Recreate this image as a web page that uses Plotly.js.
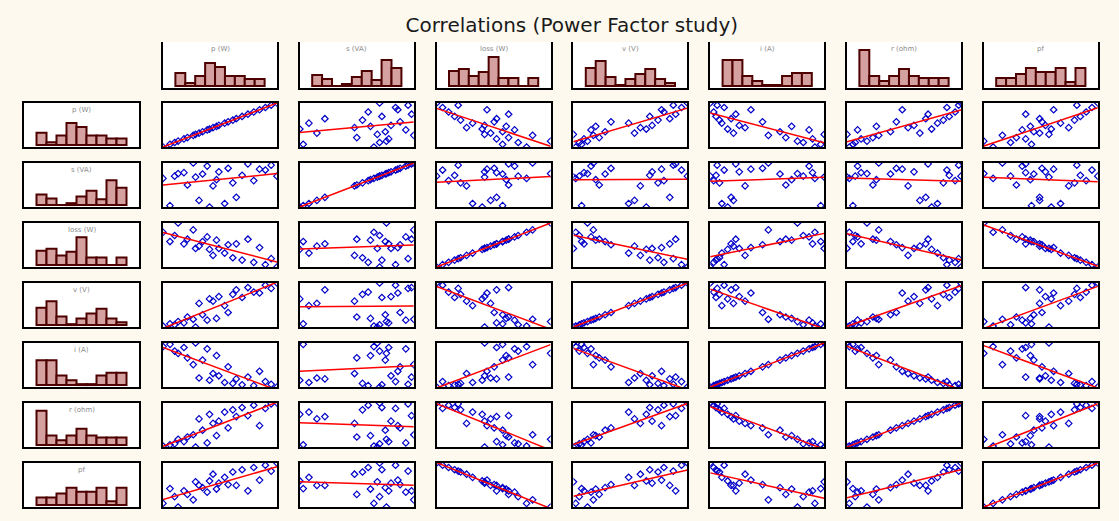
<!DOCTYPE html>
<html>
<head>
<meta charset="utf-8">
<script src="https://cdn.plot.ly/plotly-3.0.1.min.js"></script>
<style>
html,body{margin:0;padding:0;background:#fdf9ef;}
#chart{width:1119px;height:521px;}
</style>
</head>
<body>
<div id="chart"></div>
<script>
// ---- data ----
const chartTitle = "Correlations (Power Factor study)";
const varLabels = ["p (W)", "s (VA)", "loss (W)", "v (V)", "i (A)", "r (ohm)", "pf"];

// histogram bar heights (frequency) read per variable
const histP    = [13, 3, 10, 23, 19, 10, 10, 7, 7];
const histS    = [11, 7, 0, 2, 9, 15, 6, 26, 18];
const histLoss = [15, 17, 10, 14, 29, 8, 8, 0, 8];
const histV    = [18, 25, 9, 1, 7, 12, 17, 7, 3];
const histI    = [26, 26, 10, 5, 1, 1, 10, 13, 13];
const histR    = [36, 10, 5, 10, 17, 10, 8, 8, 8];
const histPf   = [8, 8, 12, 18, 14, 14, 18, 4, 18];

// observations (scaled units) for the scatter matrix
const obsP    = [0.2,0.8,1.2,1.5,2.0,2.3,2.8,3.0,3.3,3.6,4.0,4.2,4.5,4.8,5.0,5.5,5.8,6.2,6.5,7.0,7.5,8.0,8.5,9.0,9.5,10.0];
const obsS    = [6.5,0.3,7.0,7.6,7.8,5.0,10.0,6.8,1.5,7.5,9.3,0.0,4.8,6.2,8.0,0.8,8.8,5.5,2.2,7.2,9.8,6.0,8.6,8.4,9.5,7.0];
const obsLoss = [7.5,5.5,6.8,9.5,5.0,6.0,8.0,4.0,4.5,5.5,6.5,3.8,2.5,5.8,4.0,3.0,4.8,2.0,5.0,1.5,6.0,1.0,4.2,0.5,1.8,0.0];
const obsV    = [0.5,1.0,0.8,1.5,1.2,2.5,2.0,0.3,5.5,3.0,1.8,6.5,6.0,2.2,7.0,5.0,3.5,7.5,8.5,6.8,9.0,8.0,7.8,9.5,8.8,10.0];
const obsI    = [9.0,9.5,8.0,7.5,8.8,6.5,5.0,9.8,2.0,6.0,8.5,1.5,3.0,7.0,2.5,1.0,4.5,0.8,1.8,0.5,2.2,0.3,3.5,1.2,0.6,0.0];
const obsR    = [0.5,0.8,1.0,2.0,1.5,2.5,3.0,0.3,6.5,4.0,1.2,7.5,5.5,2.8,6.0,8.0,4.5,8.5,7.0,9.0,7.2,9.5,5.0,8.8,9.8,10.0];
const obsPf   = [1.0,4.3,2.5,0.2,3.8,3.0,1.8,5.8,5.0,4.5,3.5,6.0,7.5,4.2,5.5,6.8,5.2,8.0,5.0,8.5,3.8,9.0,6.2,9.5,8.2,10.0];

const hists = [histP, histS, histLoss, histV, histI, histR, histPf];
const obs = [obsP, obsS, obsLoss, obsV, obsI, obsR, obsPf];

// ---- layout geometry (pixels) ----
const W = 1119, H = 521;
const colX0 = 163, colStep = 136.8, boxW = 114;
const rowY0 = 103, rowStep = 60, boxH = 44;
const topY0 = 42, topY1 = 88;
const leftX0 = 24, leftX1 = 139;

function xd(a, b) { return [a / W, b / W]; }
function yd(a, b) { return [1 - b / H, 1 - a / H]; }

const traces = [];
const layout = {
  width: W, height: H,
  margin: {l: 0, r: 0, t: 0, b: 0},
  paper_bgcolor: '#fdf9ef',
  plot_bgcolor: '#ffffff',
  showlegend: false,
  title: {text: chartTitle, x: 0.511, xanchor: 'center', y: 1 - 25 / H, yanchor: 'middle',
          font: {family: 'DejaVu Sans, sans-serif', size: 20, color: '#1a1a1a'}},
  annotations: [],
  bargap: 0
};

let k = 0;
function addAxes(xdom, ydom, xrange, yrange, topOpen) {
  k++;
  const xn = 'xaxis' + (k === 1 ? '' : k), yn = 'yaxis' + (k === 1 ? '' : k);
  const xid = 'x' + (k === 1 ? '' : k), yid = 'y' + (k === 1 ? '' : k);
  layout[xn] = {domain: xdom, anchor: yid, range: xrange, showgrid: false, zeroline: false,
    showticklabels: false, ticks: '', showline: true, linecolor: '#000000', linewidth: 2,
    mirror: !topOpen, fixedrange: true};
  layout[yn] = {domain: ydom, anchor: xid, range: yrange, showgrid: false, zeroline: false,
    showticklabels: false, ticks: '', showline: true, linecolor: '#000000', linewidth: 2,
    mirror: true, fixedrange: true};
  return {x: xid, y: yid};
}

function histTrace(vals, ax) {
  const xs = vals.map((_, i) => i);
  return {type: 'bar', x: xs, y: vals, width: 1, xaxis: ax.x, yaxis: ax.y,
    marker: {color: '#d4a0a0', line: {color: '#4e0000', width: 2}}, hoverinfo: 'skip'};
}

function label(text, xdom, ydomTopPx) {
  layout.annotations.push({text: text, xref: 'paper', yref: 'paper',
    x: (xdom[0] + xdom[1]) / 2, y: 1 - ydomTopPx / H, xanchor: 'center', yanchor: 'top',
    showarrow: false, font: {family: 'DejaVu Sans, sans-serif', size: 7, color: '#8a8a8a'}});
}

// top histograms
for (let j = 0; j < 7; j++) {
  const n = hists[j].length;
  const xdom = xd(colX0 + colStep * j, colX0 + colStep * j + boxW);
  const ax = addAxes(xdom, yd(topY0, topY1), [-1.75, n - 0.5 + 1.25], [-2, 44], true);
  traces.push(histTrace(hists[j], ax));
  label(varLabels[j], xdom, topY0 + 1);
}
// left histograms
for (let i = 0; i < 7; i++) {
  const n = hists[i].length;
  const y0 = rowY0 + rowStep * i;
  const xdom = xd(leftX0, leftX1);
  const ax = addAxes(xdom, yd(y0, y0 + boxH), [-1.75, n - 0.5 + 1.25], [-2, 44], false);
  traces.push(histTrace(hists[i], ax));
  label(varLabels[i], xdom, y0 + 1);
}
// scatter matrix: x = column variable, y = row variable
function minmax(a) { return [Math.min(...a), Math.max(...a)]; }
for (let i = 0; i < 7; i++) {
  for (let j = 0; j < 7; j++) {
    const xs = obs[j], ys = obs[i];
    const xr = minmax(xs), yr = minmax(ys);
    const y0 = rowY0 + rowStep * i;
    const ax = addAxes(xd(colX0 + colStep * j, colX0 + colStep * j + boxW), yd(y0, y0 + boxH),
                       xr, yr, false);
    // least squares fit
    const n = xs.length;
    const mx = xs.reduce((a, b) => a + b, 0) / n, my = ys.reduce((a, b) => a + b, 0) / n;
    let sxy = 0, sxx = 0;
    for (let t = 0; t < n; t++) { sxy += (xs[t] - mx) * (ys[t] - my); sxx += (xs[t] - mx) ** 2; }
    const b = sxy / sxx, a = my - b * mx;
    traces.push({type: 'scatter', mode: 'markers', x: xs, y: ys, xaxis: ax.x, yaxis: ax.y,
      marker: {symbol: 'diamond-open', size: 5, color: '#0000c8', line: {width: 1.2, color: '#0000c8'}},
      hoverinfo: 'skip'});
    traces.push({type: 'scatter', mode: 'lines', x: [xr[0], xr[1]], y: [a + b * xr[0], a + b * xr[1]],
      xaxis: ax.x, yaxis: ax.y, line: {color: '#ff0000', width: 1.5}, hoverinfo: 'skip'});
  }
}

Plotly.newPlot('chart', traces, layout, {staticPlot: true, displayModeBar: false});
</script>
</body>
</html>
